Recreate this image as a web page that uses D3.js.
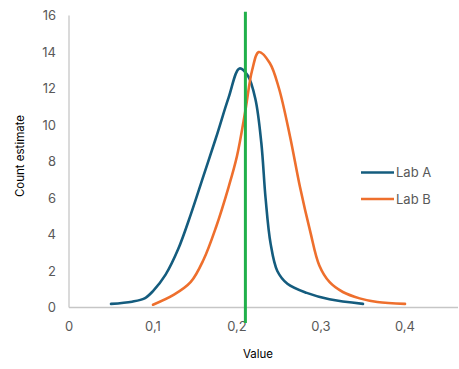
<!DOCTYPE html>
<html><head><meta charset="utf-8">
<script src="https://cdn.jsdelivr.net/npm/d3@7"></script>
<style>body{margin:0;background:#fff}svg{display:block}</style>
</head><body><svg id="c" width="459" height="369"></svg>
<script>
const labAx = [0.05,0.075,0.09,0.1,0.115,0.13,0.145,0.16,0.175,0.19,0.203,0.213,0.222,0.229,0.234,0.24,0.248,0.26,0.283,0.31,0.35];
const labAy = [0.2,0.32,0.5,0.9,1.8,3.2,5.1,7.2,9.3,11.5,13.1,12.7,11.4,9.0,6.0,3.5,2.0,1.3,0.8,0.45,0.2];
const labBx = [0.1,0.125,0.145,0.16,0.175,0.19,0.2,0.21,0.218,0.226,0.239,0.25,0.263,0.275,0.287,0.298,0.31,0.326,0.346,0.367,0.4];
const labBy = [0.15,0.7,1.4,2.6,4.4,6.6,8.3,10.8,13.0,14.0,13.4,12.0,9.4,6.6,4.2,2.3,1.4,0.85,0.5,0.3,0.2];
const refX = [0.21,0.21];
const refY = [16.2,-0.85];
const xTicks = [0,0.1,0.2,0.3,0.4];
const yTicks = [0,2,4,6,8,10,12,14,16];
const seriesNames = ["Lab A","Lab B"];
const colors = ["#145C7E","#EE6F2D"];

const svg = d3.select("#c");
const x = d3.scaleLinear().domain([0,0.4]).range([69,405]);
const y = d3.scaleLinear().domain([0,16]).range([307.5,15.5]);
const loc = d3.formatLocale({decimal:",",thousands:".",grouping:[3],currency:["",""]});
const fmt = v => v===0 ? "0" : loc.format(".1f")(v);
const font = "Inter, 'Open Sans', sans-serif";

svg.append("line").attr("x1",x(0)).attr("x2",x(0)).attr("y1",y(16)).attr("y2",y(0)).attr("stroke","#c6c6c6").attr("stroke-width",1.3);
svg.append("line").attr("x1",x(0)).attr("x2",458).attr("y1",y(0)).attr("y2",y(0)).attr("stroke","#c6c6c6").attr("stroke-width",1.3);

svg.append("g").selectAll("text").data(yTicks).join("text")
  .attr("x",56).attr("y",d=>y(d)).attr("dy","0.35em").attr("text-anchor","end")
  .attr("font-family",font).attr("font-size",13).attr("fill","#595959").text(d=>d);
svg.append("g").selectAll("text").data(xTicks).join("text")
  .attr("x",d=>x(d)).attr("y",326).attr("dy","0.35em").attr("text-anchor","middle")
  .attr("font-family",font).attr("font-size",13).attr("fill","#595959").text(fmt);

svg.append("text").attr("transform","translate(20,156) rotate(-90)").attr("text-anchor","middle").attr("dy","0.35em")
  .attr("font-family",font).attr("font-size",11.5).attr("fill","#000").text("Count estimate");
svg.append("text").attr("x",258).attr("y",354).attr("text-anchor","middle").attr("dy","0.35em")
  .attr("font-family",font).attr("font-size",11.5).attr("fill","#000").text("Value");

const line = d3.line().x(d=>x(d[0])).y(d=>y(d[1])).curve(d3.curveCatmullRom.alpha(0.5));
const series = [d3.zip(labAx,labAy), d3.zip(labBx,labBy)];
series.forEach((s,i)=>{
  svg.append("path").datum(s).attr("d",line).attr("fill","none").attr("stroke",colors[i]).attr("stroke-width",2.6).attr("stroke-linecap","round");
});
svg.append("path").datum(d3.zip(refX,refY)).attr("d",d3.line().x(d=>x(d[0])).y(d=>y(d[1])))
  .attr("stroke","#21B04B").attr("stroke-width",3);

const lg = svg.append("g").selectAll("g").data(seriesNames).join("g")
  .attr("transform",(d,i)=>`translate(0,${172.5+i*26.5})`);
lg.append("line").attr("x1",361).attr("x2",394).attr("stroke",(d,i)=>colors[i]).attr("stroke-width",2.6);
lg.append("text").attr("x",396).attr("dy","0.35em").attr("font-family",font).attr("font-size",13).attr("fill","#595959").text(d=>d);
</script></body></html>
